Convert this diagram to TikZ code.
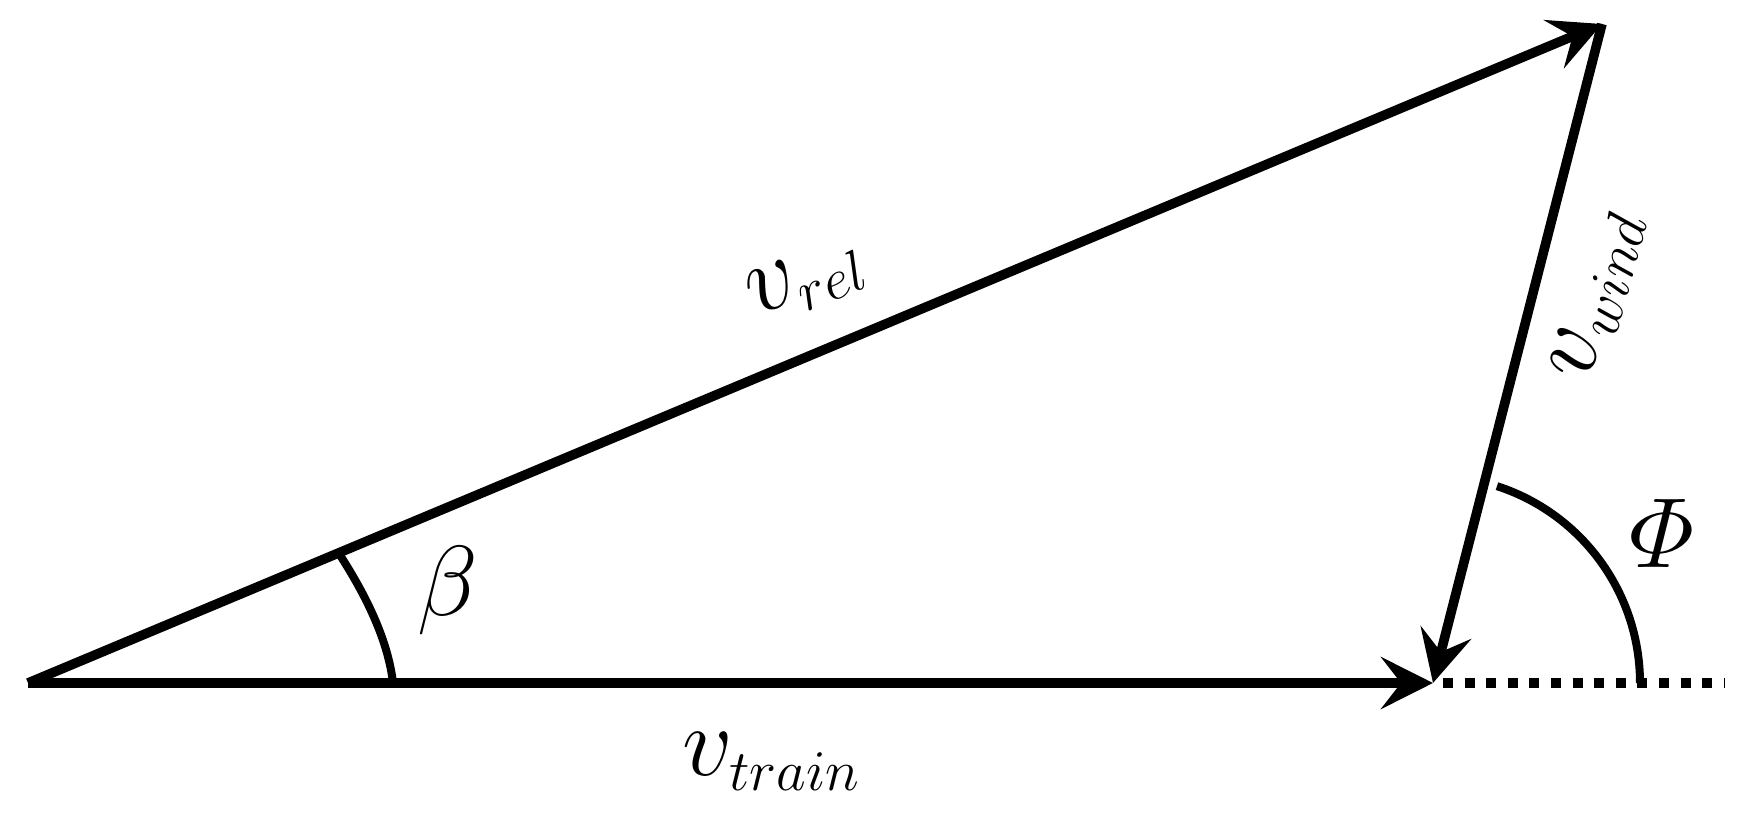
\documentclass[tikz,border=0pt]{standalone}
\usepackage{amsmath}
\usetikzlibrary{arrows.meta}
\DeclareMathSizes{24.88}{24.88}{14.4}{12}
\tikzset{
  vec/.style={line width=2.4pt,-{Stealth[length=13pt,width=13pt,inset=5pt]}},
  anglearc/.style={line width=2pt},
  lbl/.style={inner sep=0pt,font=\Huge},
  extline/.style={line width=2.5pt,dash pattern=on 2.5pt off 2.9pt}
}
\begin{document}
\begin{tikzpicture}[x=0.25pt,y=-0.25pt]
\useasboundingbox (0,0) rectangle (1749,813);
\coordinate (O) at (28,683);
\coordinate (B) at (1433,683);
\coordinate (T) at (1602,24);
\coordinate (E) at (1724,683);
% vectors
\draw[vec] (O) -- (T);
\draw[vec] (O) -- (B);
\draw[vec] (T) -- (B);
% dotted extension
\draw[extline] ([xshift=2.5pt]B) -- (E);
% beta arc
\draw[anglearc] (338,552) .. controls (366,595) and (388,640) .. (393,683);
% phi arc
\draw[anglearc] (B) ++(-72:207) arc[start angle=-72,end angle=0,radius=207];
% labels
\node[lbl,rotate=22] (lrel) at (807,281) {$v_{rel}$};
\node[lbl] (ltrain) at (772,762) {$v_{train}$};
\node[lbl,rotate=75] (lwind) at (1598,295) {$v_{wind}$};
\node[lbl] (lbeta) at (448,591) {$\beta$};
\node[lbl] (lphi) at (1662,533) {$\varPhi$};
\end{tikzpicture}
\end{document}
